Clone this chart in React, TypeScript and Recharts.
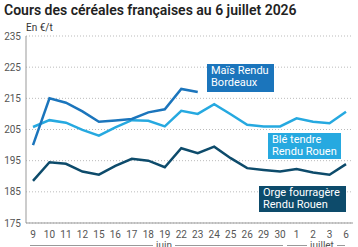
import { LineChart, Line, XAxis, YAxis, CartesianGrid } from "recharts";

// séance dates (juin then juillet)
const dates = ["9", "10", "11", "12", "15", "16", "17", "18", "19", "22", "23", "24", "25", "26", "29", "30", "1", "2", "3", "6"];

// €/t, null once the quotation stops
const mais = [200, 215, 213.6, 210.8, 207.5, 207.9, 208.4, 210.5, 211.5, 218, 217, null, null, null, null, null, null, null, null, null];
const ble = [205.8, 208, 207.2, 204.9, 203, 205.7, 208, 207.8, 206, 211, 210, 213.1, 209.9, 206.5, 206, 206, 208.6, 207.5, 207, 210.7];
const orge = [188.5, 194.5, 194, 191.5, 190.5, 193.3, 195.6, 195, 192.9, 199, 197.4, 199.5, 195.8, 192.6, 192, 191.5, 192.3, 191.2, 190.5, 193.9];

const yTicks = [175, 185, 195, 205, 215, 225, 235];

const data = dates.map((d, i) => ({ date: d, mais: mais[i], ble: ble[i], orge: orge[i] }));

const FONT = "Roboto, 'Noto Sans', sans-serif";
const C_MAIS = "#1b75bc";
const C_BLE = "#26a9e0";
const C_ORGE = "#0d4b6b";

const boxStyle = (bg: string, left: number, top: number, width: number, height: number): React.CSSProperties => ({
  position: "absolute",
  left,
  top,
  width,
  height,
  background: bg,
  color: "#fff",
  fontSize: 11,
  lineHeight: "12px",
  padding: "1px 4px",
  boxSizing: "border-box",
  whiteSpace: "nowrap",
});

export default function App() {
  return (
    <div style={{ position: "absolute", left: 0, top: 0, width: 358, height: 247, overflow: "hidden", fontFamily: FONT, background: "#fff" }}>
      <div style={{ position: "absolute", left: 4, top: 2, fontSize: 14, fontWeight: 600, color: "#222" }}>
        Cours des céréales françaises au 6 juillet 2026
      </div>
      <div style={{ position: "absolute", left: 26, top: 22, fontSize: 10, color: "#333" }}>En €/t</div>
      <LineChart width={358} height={247} data={data} margin={{ top: 36, right: 5, bottom: 0, left: 0 }}>
        <CartesianGrid vertical={false} stroke="#bbb" strokeDasharray="1 2" />
        <XAxis
          dataKey="date"
          height={24}
          interval={0}
          padding={{ left: 7, right: 7 }}
          axisLine={{ stroke: "#999" }}
          tickLine={false}
          tickSize={0}
          tickMargin={8}
          tick={{ fontSize: 10, fill: "#555", fontFamily: FONT }}
        />
        <YAxis
          width={26}
          domain={[175, 235]}
          ticks={yTicks}
          interval={0}
          axisLine={{ stroke: "#999" }}
          tickLine={false}
          tickSize={0}
          tickMargin={5}
          tick={{ fontSize: 10, fill: "#555", fontFamily: FONT }}
        />
        <Line dataKey="ble" stroke={C_BLE} strokeWidth={2.5} dot={false} isAnimationActive={false} />
        <Line dataKey="orge" stroke={C_ORGE} strokeWidth={2.5} dot={false} isAnimationActive={false} />
        <Line dataKey="mais" stroke={C_MAIS} strokeWidth={2.5} dot={false} isAnimationActive={false} connectNulls={false} />
      </LineChart>

      <div style={boxStyle(C_MAIS, 207, 64, 67, 28)}>Maïs Rendu<br />Bordeaux</div>
      <div style={boxStyle(C_BLE, 268, 133, 73, 26)}>Blé tendre<br />Rendu Rouen</div>
      <div style={boxStyle(C_ORGE, 259, 186, 87, 26)}>Orge fourragère<br />Rendu Rouen</div>

      {/* month brackets */}
      <div style={{ position: "absolute", left: 30, top: 245, width: 123, borderTop: "1px solid #999" }} />
      <div style={{ position: "absolute", left: 153, top: 240, width: 22, textAlign: "center", fontSize: 10, color: "#555" }}>juin</div>
      <div style={{ position: "absolute", left: 175, top: 245, width: 108, borderTop: "1px solid #999" }} />
      <div style={{ position: "absolute", left: 287, top: 245, width: 20, borderTop: "1px solid #999" }} />
      <div style={{ position: "absolute", left: 307, top: 240, width: 30, textAlign: "center", fontSize: 10, color: "#555" }}>juillet</div>
      <div style={{ position: "absolute", left: 337, top: 245, width: 8, borderTop: "1px solid #999" }} />
    </div>
  );
}
